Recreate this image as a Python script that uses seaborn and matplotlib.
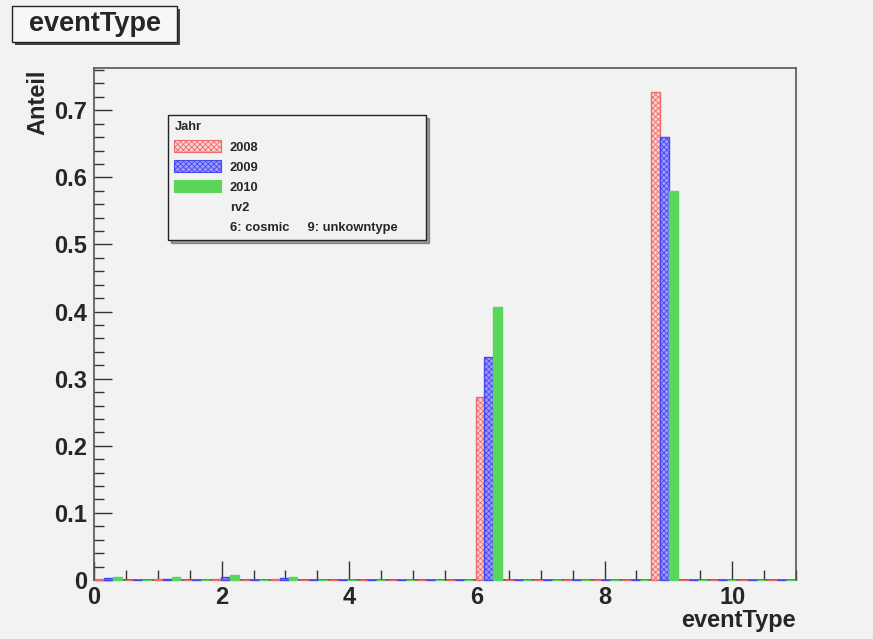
import numpy as np
import pandas as pd
import matplotlib
matplotlib.use("Agg")
import matplotlib.pyplot as plt
import seaborn as sns
from matplotlib.patches import Patch, Rectangle
from matplotlib.lines import Line2D
from matplotlib.ticker import MultipleLocator, FuncFormatter

# ---------------- data ----------------
years = ["2008", "2009", "2010"]
event_types = [0, 1, 2, 3, 6, 9]
share_2008 = [0.0012, 0.0010, 0.0012, 0.0010, 0.272, 0.727]
share_2009 = [0.0030, 0.0022, 0.0045, 0.0030, 0.332, 0.660]
share_2010 = [0.0045, 0.0042, 0.0075, 0.0045, 0.407, 0.579]
n_bins = 24
x_range = (0, 11)
title = "eventType"
x_label = "eventType"
y_label = "Anteil"
legend_title = "Jahr"
legend_notes = ["rv2", "6: cosmic     9: unkowntype"]

face = {"2008": "#fbd2d2", "2009": "#9a9aff", "2010": "#5ad65a"}
edge = {"2008": "#ef6a6a", "2009": "#4848f2", "2010": "#5ad65a"}
hatch = {"2008": "xxxxxx", "2009": "xxxxxx", "2010": ""}

# ---------------- histogram the values ----------------
edges = np.linspace(x_range[0], x_range[1], n_bins + 1)
centers = 0.5 * (edges[:-1] + edges[1:])
rows = []
for yr, s in zip(years, [share_2008, share_2009, share_2010]):
    h, _ = np.histogram(event_types, bins=edges, weights=s)
    for c, v in zip(centers, h):
        rows.append({"eventType": c, "Jahr": yr, "Anteil": v})
df = pd.DataFrame(rows)

# ---------------- style ----------------
sns.set_style("ticks")
bg = "#f2f2f2"
plt.rcParams["font.family"] = ["Liberation Sans", "DejaVu Sans"]
plt.rcParams["font.weight"] = "bold"
plt.rcParams["hatch.linewidth"] = 0.6

fig = plt.figure(figsize=(8.73, 6.39), dpi=100, facecolor=bg)
ax = fig.add_axes([94 / 873, 1 - 580 / 639, 702 / 873, 512 / 639])
ax.set_facecolor(bg)

sns.barplot(data=df, x="eventType", y="Anteil", hue="Jahr", hue_order=years,
            native_scale=True, dodge=True, width=0.9, palette=face,
            errorbar=None, legend=False, saturation=1, ax=ax, zorder=3)

for cont, yr in zip(ax.containers, years):
    for bar in cont:
        bar.set_facecolor(face[yr])
        bar.set_edgecolor(edge[yr])
        bar.set_hatch(hatch[yr])
        bar.set_linewidth(1.0)
        bar.set_clip_on(False)

ax.set_xlim(*x_range)
ax.set_ylim(0, 0.763)

ax.xaxis.set_major_locator(MultipleLocator(2))
ax.xaxis.set_minor_locator(MultipleLocator(0.5))
ax.yaxis.set_major_locator(MultipleLocator(0.1))
ax.yaxis.set_minor_locator(MultipleLocator(0.02))
ax.xaxis.set_major_formatter(FuncFormatter(lambda v, p: f"{v:.0f}"))
ax.yaxis.set_major_formatter(FuncFormatter(lambda v, p: "0" if abs(v) < 1e-9 else f"{v:.1f}"))

ax.tick_params(axis="both", which="both", direction="in", color="#333333",
               top=False, right=False, width=1)
ax.tick_params(axis="x", which="major", length=14, pad=4, labelsize=17)
ax.tick_params(axis="x", which="minor", length=7)
ax.tick_params(axis="y", which="major", length=13, pad=5, labelsize=17)
ax.tick_params(axis="y", which="minor", length=7)
for lab in ax.get_xticklabels() + ax.get_yticklabels():
    lab.set_fontweight("bold")

for s in ax.spines.values():
    s.set_visible(True)
    s.set_color("#555555")
    s.set_linewidth(1.2)

ax.set_xlabel("")
ax.set_ylabel("")
fig.text(796 / 873, 1 - 620 / 639, x_label, ha="right", va="center",
         fontsize=17, fontweight="bold")
fig.text(38 / 873, 1 - 70 / 639, y_label, ha="center", va="top", rotation=90,
         fontsize=17, fontweight="bold")

# ---------------- legend ----------------
handles = [Patch(facecolor=face[y], edgecolor=edge[y], hatch=hatch[y], linewidth=0.8)
           for y in years]
handles += [Line2D([], [], linestyle="none") for _ in legend_notes]
labels = years + [legend_notes[0], legend_notes[1] + "      "]
leg = ax.legend(handles, labels, title=legend_title, loc="upper left",
                bbox_to_anchor=((168 - 94) / 702, (580 - 115) / 512),
                borderaxespad=0, frameon=True, fancybox=False, shadow=True,
                prop={"size": 9.3, "weight": "bold"}, handlelength=3.6,
                handleheight=1.1, handletextpad=0.7, labelspacing=0.5,
                borderpad=0.5, alignment="left")
leg.get_title().set_fontsize(9.3)
leg.get_title().set_fontweight("bold")
leg.get_frame().set_edgecolor("#222222")
leg.get_frame().set_facecolor(bg)
leg.get_frame().set_linewidth(1.0)
leg.set_zorder(10)

# ---------------- title box ----------------
fig.patches.append(Rectangle((15 / 873, 1 - 45 / 639), 165 / 873, 36 / 639,
                             transform=fig.transFigure, facecolor="#444444",
                             edgecolor="none", zorder=1))
fig.patches.append(Rectangle((12 / 873, 1 - 42 / 639), 165 / 873, 36 / 639,
                             transform=fig.transFigure, facecolor="#f7f7f7",
                             edgecolor="#222222", linewidth=1.0, zorder=2))
fig.text(95 / 873, 1 - 24 / 639, title, ha="center", va="center",
         fontsize=19.5, fontweight="bold", zorder=3)

fig.savefig("out.png", dpi=100, facecolor=bg)
